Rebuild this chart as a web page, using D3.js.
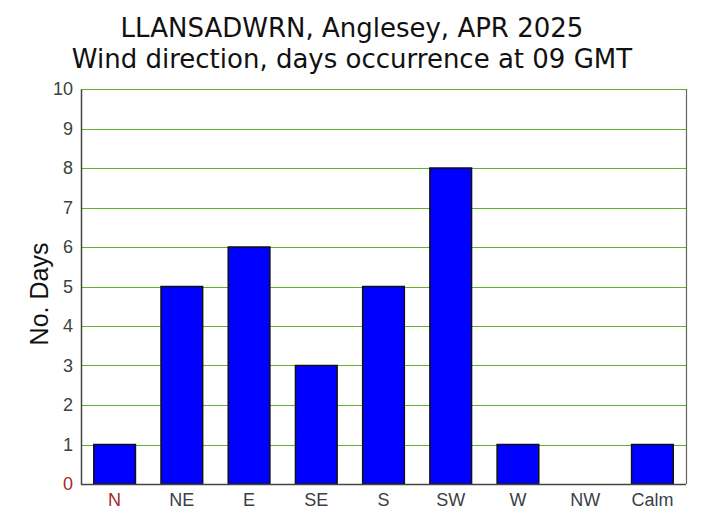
<!DOCTYPE html>
<html>
<head>
<meta charset="utf-8">
<script src="https://cdn.jsdelivr.net/npm/d3@7"></script>
<style>
  body { margin: 0; background: #fff; }
  svg { display: block; font-family: "Liberation Sans", Arial, sans-serif; }
</style>
</head>
<body>
<script>
const w = 704;
const h = 521;

// data
const directions = ["N", "NE", "E", "SE", "S", "SW", "W", "NW", "Calm"];
const days = [1, 5, 6, 3, 5, 8, 1, 0, 1];
const yTicks = [0, 1, 2, 3, 4, 5, 6, 7, 8, 9, 10];
const titleLines = ["LLANSADWRN, Anglesey, APR 2025", "Wind direction, days occurrence at 09 GMT"];

const plotLeft = 81, plotRight = 686, plotTop = 89, plotBottom = 484;

const svg = d3.select("body")
    .append("svg")
    .attr("width", w)
    .attr("height", h)
    ;

const xScale = d3.scaleBand()
    .domain(directions)
    .range([plotLeft, plotRight])
    .paddingInner(0.38)
    .paddingOuter(0.19)
    ;

const yScale = d3.scaleLinear()
    .domain([0, 10])
    .range([plotBottom, plotTop])
    ;

// gridlines
svg.append("g")
    .selectAll("line")
    .data(yTicks.filter(d => d > 0))
    .enter()
    .append("line")
    .attr("x1", plotLeft)
    .attr("x2", plotRight)
    .attr("y1", d => Math.round(yScale(d)) + 0.5)
    .attr("y2", d => Math.round(yScale(d)) + 0.5)
    .attr("stroke", "#5cb32e")
    .attr("stroke-width", 1.4)
    .attr("shape-rendering", "crispEdges")
    ;

// right border
svg.append("line")
    .attr("x1", plotRight + 0.5).attr("x2", plotRight + 0.5)
    .attr("y1", plotTop).attr("y2", plotBottom)
    .attr("stroke", "#666")
    .attr("stroke-width", 1.2)
    ;

// bars
svg.append("g")
    .selectAll("rect")
    .data(days)
    .enter()
    .append("rect")
    .attr("x", (d, i) => xScale(directions[i]))
    .attr("y", d => yScale(d))
    .attr("width", xScale.bandwidth())
    .attr("height", d => plotBottom - yScale(d))
    .attr("fill", "#0000ff")
    .attr("stroke", d => d > 0 ? "#111" : "none")
    .attr("stroke-width", 1.5)
    ;

// axes
const yAxis = d3.axisLeft(yScale).tickValues(yTicks).tickSize(0).tickPadding(8);
const gy = svg.append("g")
    .attr("transform", `translate(${plotLeft}, 0)`)
    .call(yAxis)
    ;
gy.select(".domain").attr("stroke", "#444").attr("stroke-width", 1.5);
gy.selectAll("text")
    .attr("font-size", 18)
    .attr("font-family", "Liberation Sans, Arial, sans-serif")
    .attr("fill", d => d === 0 ? "#a32a2a" : "#3a443a")
    ;

const xAxis = d3.axisBottom(xScale).tickSize(0).tickPadding(9);
const gx = svg.append("g")
    .attr("transform", `translate(0, ${plotBottom})`)
    .call(xAxis)
    ;
gx.select(".domain").attr("stroke", "#444").attr("stroke-width", 1.5)
    .attr("d", `M${plotLeft},0.5H${plotRight}`);
gx.selectAll("text")
    .attr("font-size", 18)
    .attr("font-family", "Liberation Sans, Arial, sans-serif")
    .attr("fill", d => d === "N" ? "#a32a2a" : "#3a3f48")
    ;

// y axis title
svg.append("text")
    .attr("transform", `translate(48, 294) rotate(-90)`)
    .attr("text-anchor", "middle")
    .attr("font-size", 25)
    .attr("fill", "#111")
    .text("No. Days")
    ;

// chart title
svg.selectAll(".title")
    .data(titleLines)
    .enter()
    .append("text")
    .attr("class", "title")
    .attr("x", 352)
    .attr("y", (d, i) => 37 + i * 31)
    .attr("text-anchor", "middle")
    .attr("font-family", "DejaVu Sans, Verdana, sans-serif")
    .attr("font-size", 26)
    .attr("fill", "#111")
    .text(d => d)
    ;
</script>
</body>
</html>
